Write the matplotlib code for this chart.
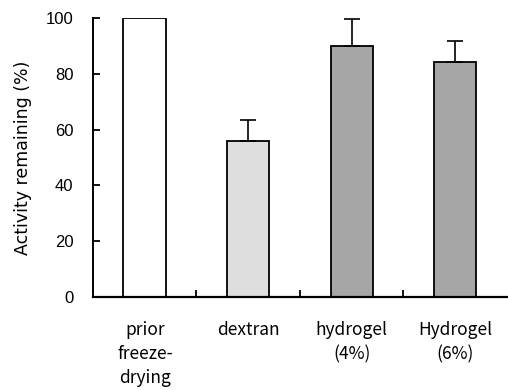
import matplotlib
matplotlib.use('Agg')
import matplotlib.pyplot as plt
import numpy as np

plt.rcParams['font.family'] = ['Liberation Sans', 'DejaVu Sans']

# activity after freeze-drying
labels = ['prior\nfreeze-\ndrying', 'dextran', 'hydrogel\n(4%)', 'Hydrogel\n(6%)']
activity = [100, 56, 90, 84.2]
err_up = [0, 7.5, 9.6, 7.4]
colors = ['white', '#dedede', '#a6a6a6', '#a6a6a6']

fig = plt.figure(figsize=(5.08, 3.9), dpi=100)
ax = fig.add_axes([0.183, 0.238, 0.815, 0.716])

x = np.arange(len(labels))
ax.bar(x, activity, width=0.41, color=colors, edgecolor='black', linewidth=1.3, zorder=2)
for xi, v, e in zip(x, activity, err_up):
    if e > 0:
        ax.errorbar(xi, v, yerr=[[0], [e]], fmt='none', ecolor='black',
                    elinewidth=1.2, capsize=6, capthick=1.2, zorder=3)

ax.set_xlim(-0.5, 3.5)
ax.set_ylim(0, 100)
ax.set_yticks([0, 20, 40, 60, 80, 100])
ax.tick_params(axis='y', direction='in', length=5, width=1.3, labelsize=12, pad=14)

ax.set_xticks(x)
ax.set_xticklabels(labels, fontsize=12.5, linespacing=1.45,
                   family=['Noto Sans CJK JP', 'DejaVu Sans'])
ax.tick_params(axis='x', which='major', length=0, pad=17)
ax.set_xticks([0.5, 1.5, 2.5], minor=True)
ax.tick_params(axis='x', which='minor', direction='in', length=5, width=1.3)

ax.spines['top'].set_visible(False)
ax.spines['right'].set_visible(False)
ax.spines['left'].set_linewidth(1.4)
ax.spines['bottom'].set_linewidth(1.6)

ax.set_ylabel('Activity remaining (%)', fontsize=12.5, family='DejaVu Sans', labelpad=10)

fig.savefig('out.png', dpi=100)
